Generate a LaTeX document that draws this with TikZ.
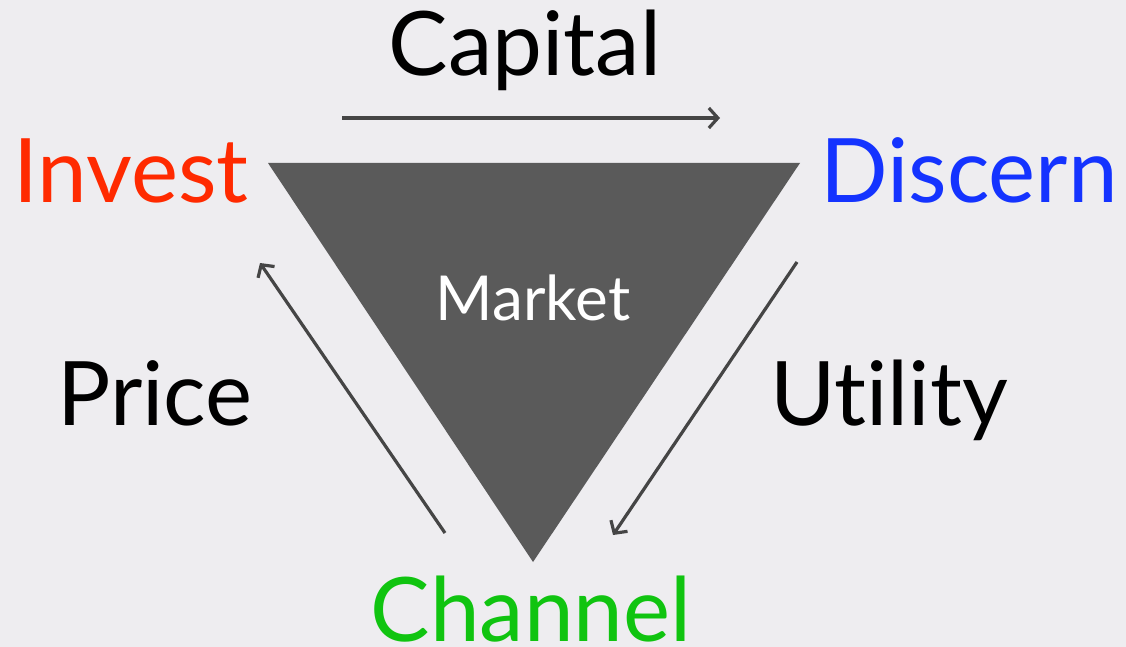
\documentclass[tikz,border=0pt]{standalone}
\usepackage{fontspec}
\setmainfont{Lato}[Ligatures={NoCommon,NoRequired,NoContextual}]
\usetikzlibrary{arrows.meta}
\definecolor{bg}{HTML}{EEEDF0}
\definecolor{tri}{HTML}{5A5A5A}
\definecolor{arr}{HTML}{454545}
\definecolor{cred}{HTML}{FF2A00}
\definecolor{cblue}{HTML}{1433FF}
\definecolor{cgreen}{HTML}{10C410}
\tikzset{
  big/.style={anchor=base, inner sep=0pt, font=\fontsize{89}{89}\selectfont},
  flow/.style={draw=arr, line width=3.2pt, -{Straight Barb[length=9pt,width=20pt,line width=3.2pt]}}
}
\begin{document}
\begin{tikzpicture}[x=1pt,y=-1pt]
\fill[bg] (0,0) rectangle (1126,647);
\useasboundingbox (0,0) rectangle (1126,647);
\fill[tri] (268,163) -- (800,163) -- (533,562) -- cycle;
\node[anchor=base, inner sep=0pt, text=white, font=\fontsize{62}{62}\selectfont] (market) at (533,320) {Market};
\node[big, text=cred] (invest) at (131,203) {Invest};
\node[big, text=cblue] (discern) at (969,203) {Discern};
\node[big, text=cgreen] (channel) at (531,641) {Channel};
\node[big] (capital) at (525,76) {Capital};
\node[big] (price) at (155,425) {Price};
\node[big] (utility) at (889,425) {Utility};
\coordinate (c1) at (342,118);
\coordinate (c2) at (720,118);
\coordinate (u1) at (797,262);
\coordinate (u2) at (613,535);
\coordinate (p1) at (445,533);
\coordinate (p2) at (260,263);
\draw[flow] (c1) -- (c2);
\draw[flow] (u1) -- (u2);
\draw[flow] (p1) -- (p2);
\end{tikzpicture}
\end{document}
